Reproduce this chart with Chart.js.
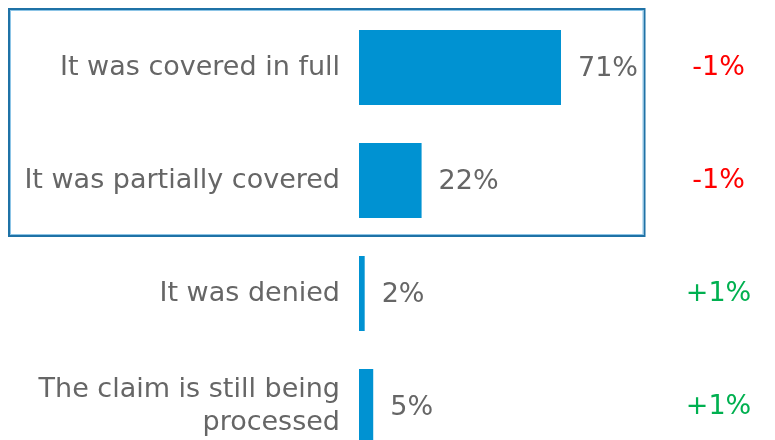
<!DOCTYPE html>
<html>
<head>
<meta charset="utf-8">
<script src="https://cdn.jsdelivr.net/npm/chart.js@4/dist/chart.umd.min.js"></script>
<style>
  html, body { margin: 0; padding: 0; background: #fff; overflow: hidden; }
  #wrap { width: 775px; height: 440px; overflow: hidden; }
</style>
</head>
<body>
<div id="wrap"><canvas id="myChart" width="775" height="463"></canvas></div>
<script>
const categories = [
    'It was covered in full',
    'It was partially covered',
    'It was denied',
    ['The claim is still being', 'processed'],
];
const shares = [71, 22, 2, 5];
const changes = [-1, -1, 1, 1];

const FONT = "'DejaVu Sans', Verdana, sans-serif";
const FONT_SIZE = 27;
const GREY = '#666666';
const BAR_BLUE = '#0092d2';

// value after each bar, change column on the right
const labelPlugin = {
    id: 'labels',
    afterDatasetsDraw(chart) {
        const ctx = chart.ctx;
        const area = chart.chartArea;
        const meta = chart.getDatasetMeta(0);
        ctx.save();
        ctx.font = FONT_SIZE + 'px ' + FONT;
        ctx.textBaseline = 'middle';
        meta.data.forEach((bar, i) => {
            ctx.fillStyle = GREY;
            ctx.textAlign = 'left';
            ctx.fillText(shares[i] + '%', bar.x + 17, bar.y + 1);

            const c = changes[i];
            ctx.fillStyle = c < 0 ? '#ff0000' : '#00b050';
            ctx.textAlign = 'center';
            ctx.fillText((c > 0 ? '+' : '-') + Math.abs(c) + '%', area.right + 75, bar.y);
        });
        ctx.restore();
    }
};

// frame around the first two rows
const framePlugin = {
    id: 'frame',
    afterDraw(chart) {
        const ctx = chart.ctx;
        const y = chart.scales.y;
        const step = y.getPixelForValue(1) - y.getPixelForValue(0);
        const top = y.getPixelForValue(0) - step / 2 - 2;
        const bottom = y.getPixelForValue(1) + step / 2 - 1;
        ctx.save();
        ctx.strokeStyle = '#1f72a6';
        ctx.lineWidth = 2;
        ctx.strokeRect(9, top, chart.chartArea.right + 1 - 9, bottom - top);
        ctx.strokeStyle = '#8cc4e6';
        ctx.lineWidth = 1;
        ctx.strokeRect(10.5, top + 1.5, chart.chartArea.right - 11, bottom - top - 3);
        ctx.restore();
    }
};

const ctx = document.getElementById('myChart');

new Chart(ctx, {
    type: 'bar',
    data: {
        labels: categories,
        datasets: [{
            data: shares,
            backgroundColor: BAR_BLUE,
            borderWidth: 0,
            barPercentage: 0.664,
            categoryPercentage: 1,
        }]
    },
    options: {
        indexAxis: 'y',
        responsive: false,
        animation: false,
        devicePixelRatio: 1,
        layout: { padding: { top: 11, right: 131.5, bottom: 0, left: 0 } },
        plugins: {
            legend: { display: false },
            tooltip: { enabled: false },
        },
        scales: {
            x: {
                display: false,
                min: 0,
                max: 100,
            },
            y: {
                grid: { display: false, drawTicks: false },
                border: { display: false },
                ticks: {
                    color: GREY,
                    padding: 19,
                    font: { family: FONT, size: FONT_SIZE, lineHeight: 1.2 },
                },
                afterFit(scale) {
                    scale.width = 359;
                    scale.paddingTop = 0;
                    scale.paddingBottom = 0;
                },
            },
        },
    },
    plugins: [labelPlugin, framePlugin],
});
</script>
</body>
</html>
